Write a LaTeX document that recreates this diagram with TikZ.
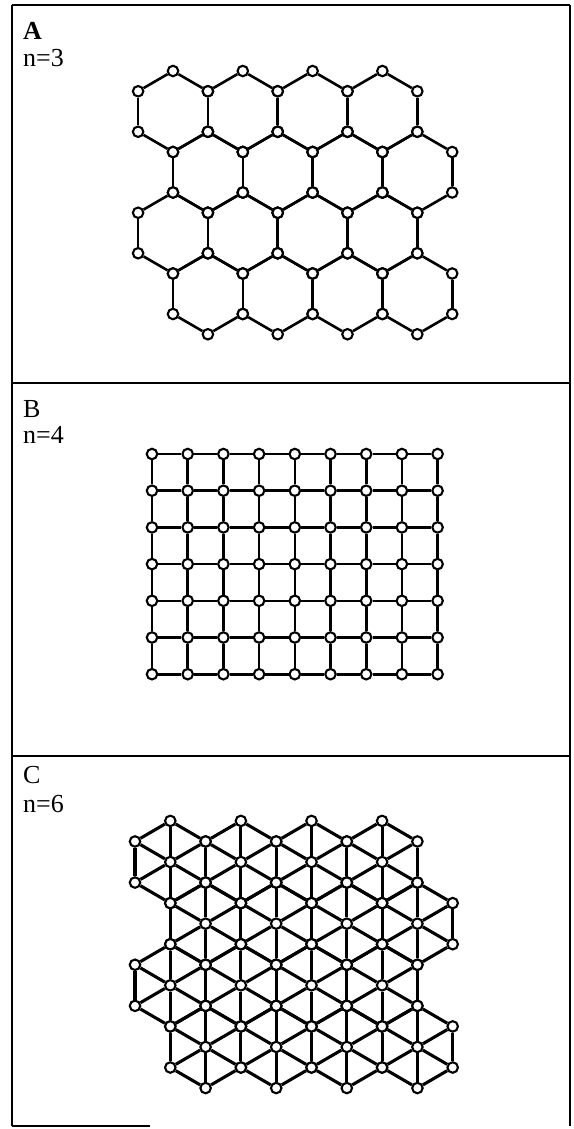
\documentclass[tikz,border=0pt]{standalone}
\usepackage{fontspec}
\setmainfont{Liberation Serif}
\tikzset{
  site/.style={circle,draw,fill=white,line width=2.1pt,inner sep=0pt,minimum size=10.5pt},
  bond/.style={line width=2.6pt},
  frame/.style={line width=2.8pt},
  tag/.style={anchor=base west,inner sep=0pt,font=\fontsize{26}{26}\selectfont}
}
\begin{document}
\begin{tikzpicture}[x=1pt,y=-1pt]
\useasboundingbox (0,0) rectangle (573,1129);
\draw[frame] (12,5) -- (570,5);
\draw[frame] (12,383) -- (570,383);
\draw[frame] (12,756) -- (570,756);
\draw[frame] (12,1126) -- (150,1126);
\draw[frame] (12,5) -- (12,1126);
\draw[line width=1.8pt] (570,5) -- (570,1126);
\node[tag,font=\fontsize{26}{26}\selectfont\bfseries] (labA) at (23,40) {A};
\node[tag] (nA) at (23,67) {n=3};
\node[tag] (labB) at (23,417) {B};
\node[tag] (nB) at (23,443) {n=4};
\node[tag] (labC) at (23,783) {C};
\node[tag] (nC) at (23,812) {n=6};
\foreach \r in {0,...,3}
  \foreach \c in {0,...,3} {
    \pgfmathsetmacro\cx{173+69.8*\c+34.9*mod(\r,2)}
    \pgfmathsetmacro\cy{111.5+60.75*\r}
    \foreach \k/\dx/\dy in {0/0/-1,1/1/-0.5,2/1/0.5,3/0/1,4/-1/0.5,5/-1/-0.5}
      \node[site] (a-\r-\c-\k) at (\cx+34.9*\dx,\cy+40.5*\dy) {};
    \foreach \k/\n in {0/1,1/2,2/3,3/4,4/5,5/0}
      \draw[bond] (a-\r-\c-\k) -- (a-\r-\c-\n);
  }
\foreach \i in {0,...,8}
  \foreach \j in {0,...,6}
    \node[site] (b-\i-\j) at (152+35.7*\i,454+36.7*\j) {};
\foreach \i in {0,...,8}
  \foreach \j in {0,...,6} {
    \pgfmathtruncatemacro\inext{\i+1}
    \pgfmathtruncatemacro\jnext{\j+1}
    \ifnum\i<8 \draw[bond] (b-\i-\j) -- (b-\inext-\j); \fi
    \ifnum\j<6 \draw[bond] (b-\i-\j) -- (b-\i-\jnext); \fi
  }
\foreach \r in {0,...,3}
  \foreach \c in {0,...,3} {
    \pgfmathsetmacro\cx{170.3+70.6*\c+35.3*mod(\r,2)}
    \pgfmathsetmacro\cy{862+61.65*\r}
    \node[site] (c-\r-\c) at (\cx,\cy) {};
    \foreach \k/\dx/\dy in {0/0/-1,1/1/-0.5,2/1/0.5,3/0/1,4/-1/0.5,5/-1/-0.5}
      \node[site] (c-\r-\c-\k) at (\cx+35.3*\dx,\cy+41.1*\dy) {};
    \foreach \k/\n in {0/1,1/2,2/3,3/4,4/5,5/0} {
      \draw[bond,line width=3.1pt] (c-\r-\c-\k) -- (c-\r-\c-\n);
      \draw[bond,line width=3.1pt] (c-\r-\c) -- (c-\r-\c-\k);
    }
  }
\end{tikzpicture}
\end{document}
